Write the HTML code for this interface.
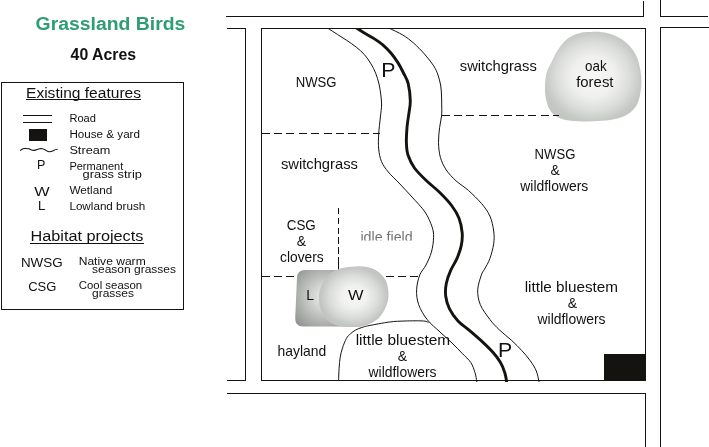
<!DOCTYPE html>
<html><head><meta charset="utf-8"><title>Grassland Birds</title>
<style>
html,body{margin:0;padding:0;background:#fff;}
body{width:709px;height:447px;overflow:hidden;font-family:"Liberation Sans",sans-serif;}
svg{display:block;}
text{font-family:"Liberation Sans",sans-serif;}
</style></head><body>
<svg width="709" height="447" viewBox="0 0 709 447">
<defs>
<radialGradient id="gF" cx="0.5" cy="0.5" r="0.53">
<stop offset="0" stop-color="#f8f9f7"/><stop offset="0.42" stop-color="#f0f1ef"/><stop offset="0.72" stop-color="#dbddda"/><stop offset="0.93" stop-color="#c7c9c6"/><stop offset="1" stop-color="#c4c6c3"/>
</radialGradient>
<radialGradient id="gW" cx="0.5" cy="0.5" r="0.51">
<stop offset="0" stop-color="#f8f8f6"/><stop offset="0.35" stop-color="#f1f2f0"/><stop offset="0.7" stop-color="#d9dbd8"/><stop offset="0.95" stop-color="#c3c5c2"/>
</radialGradient>
<radialGradient id="gL" gradientUnits="userSpaceOnUse" cx="325" cy="297" r="42">
<stop offset="0" stop-color="#eeefed"/><stop offset="0.3" stop-color="#d2d4d1"/><stop offset="0.7" stop-color="#a8aaa7"/><stop offset="1" stop-color="#888a87"/>
</radialGradient>
<clipPath id="mapclip"><rect x="261" y="28.5" width="385" height="353.5"/></clipPath>
<clipPath id="idleclip"><rect x="355" y="228" width="65" height="12.6"/></clipPath>
<filter id="soft" x="-5%" y="-5%" width="110%" height="110%"><feGaussianBlur stdDeviation="0.6"/></filter>
</defs>
<rect width="709" height="447" fill="#fff"/>
<!-- blobs -->
<path d="M591.2,31.9 C594.6,31.8 598.6,31.8 602.0,32.2 C605.4,32.6 608.0,33.0 611.4,34.2 C614.8,35.4 618.9,37.3 622.2,39.6 C625.6,41.9 629.0,45.2 631.5,48.2 C634.0,51.2 635.6,54.1 637.0,57.5 C638.4,60.9 639.3,64.5 640.0,68.3 C640.7,72.0 641.4,75.5 641.4,80.0 C641.4,84.5 640.9,90.9 640.0,95.2 C639.1,99.5 638.1,102.9 636.2,106.0 C634.3,109.1 631.5,111.7 628.4,113.8 C625.3,115.9 622.0,117.2 617.6,118.4 C613.2,119.6 607.2,120.3 602.0,120.8 C596.8,121.3 591.7,121.5 586.5,121.5 C581.3,121.5 575.6,121.4 571.0,120.8 C566.4,120.2 562.0,119.2 558.6,117.7 C555.2,116.2 552.8,114.0 550.9,111.5 C549.0,109.0 548.0,106.5 547.0,103.0 C546.0,99.5 545.1,95.3 545.0,90.5 C544.9,85.7 545.2,78.7 546.3,74.0 C547.4,69.3 549.8,65.9 551.6,62.1 C553.4,58.3 555.0,54.5 557.0,51.3 C559.0,48.1 561.0,45.2 563.3,42.7 C565.6,40.2 567.9,38.2 571.0,36.5 C574.1,34.8 578.5,33.4 581.9,32.6 C585.3,31.8 587.9,32.0 591.2,31.9Z" fill="url(#gF)" filter="url(#soft)"/>
<!-- roads -->
<g fill="none" stroke="#14130f" stroke-width="1.1" shape-rendering="crispEdges">
<path d="M226,16.5H644M643.5,17V1"/>
<path d="M660.5,0V16.5H708"/>
<path d="M227,28.5H245.5V380.5H227"/>
<path d="M227,393.5H645.5V447"/>
<path d="M709,27.5H660.5V447"/>
<rect x="261.5" y="28.5" width="384" height="352"/>
<rect x="1.5" y="82.5" width="182" height="227"/>
</g>
<!-- dashed -->
<g fill="none" stroke="#14130f" stroke-width="1.1" stroke-dasharray="8 4.4" shape-rendering="crispEdges">
<path d="M261.5,133.5H380"/>
<path d="M441.5,115.5H558.5"/>
<path d="M261.5,276.5H420"/>

</g>
<path d="M305,270 H352 V326.5 H303 Q295,326.5 295.2,318 L297,278 Q297.3,270 305,270Z" fill="url(#gL)" filter="url(#soft)"/>
<path d="M338.5,207.9V213.9M338.5,218V224.4M338.5,227.6V234.1M338.5,237.3V243.9M338.5,247.1V253.8M338.5,256.9V270" fill="none" stroke="#14130f" stroke-width="1.1" shape-rendering="crispEdges"/>
<path d="M355.4,266.4 C359.9,266.2 363.6,266.2 367.2,267.0 C370.8,267.8 374.1,268.7 377.2,270.9 C380.3,273.1 383.7,276.3 385.6,280.1 C387.5,283.9 388.4,289.4 388.5,293.6 C388.6,297.8 388.1,301.2 386.5,305.3 C384.9,309.4 382.4,314.5 378.9,317.9 C375.4,321.2 370.0,323.9 365.5,325.4 C361.0,326.9 356.5,327.0 352.0,327.1 C347.5,327.2 342.7,326.9 338.6,325.8 C334.6,324.7 330.6,323.0 327.7,320.4 C324.8,317.8 322.5,313.9 321.0,310.3 C319.5,306.7 318.9,302.5 318.9,298.6 C318.9,294.7 319.4,290.7 321.0,286.8 C322.6,282.9 325.4,278.1 328.6,275.0 C331.8,271.9 335.8,269.8 340.3,268.4 C344.8,267.0 350.9,266.6 355.4,266.4Z" fill="url(#gW)" filter="url(#soft)"/>
<!-- curves -->
<g fill="none" stroke="#14130f" stroke-width="1" clip-path="url(#mapclip)">
<path d="M322.0,25.0 C322.9,25.5 324.8,26.4 327.4,28.0 C330.0,29.6 334.2,32.3 337.4,34.4 C340.6,36.5 343.7,38.3 346.8,40.4 C349.9,42.5 353.3,44.8 356.2,47.1 C359.1,49.5 361.8,51.7 364.3,54.5 C366.8,57.3 369.1,60.8 371.0,63.9 C372.9,67.0 374.4,70.0 375.7,73.3 C377.0,76.6 378.1,80.4 379.0,84.0 C379.9,87.6 380.4,91.5 380.8,95.0 C381.2,98.5 381.7,101.3 381.6,105.0 C381.5,108.7 380.9,112.2 380.4,117.0 C379.9,121.8 379.0,128.7 378.7,134.0 C378.4,139.3 378.2,144.4 378.7,149.0 C379.2,153.6 379.9,157.8 381.5,161.6 C383.1,165.4 385.4,168.4 388.3,172.0 C391.2,175.6 395.1,178.8 399.0,183.0 C402.9,187.2 407.7,192.2 412.0,197.0 C416.3,201.8 421.7,207.1 425.0,212.0 C428.3,216.9 430.6,222.5 432.0,226.7 C433.4,230.9 433.7,233.2 433.6,237.4 C433.5,241.7 432.7,247.6 431.4,252.2 C430.1,256.8 427.9,261.2 426.0,265.0 C424.1,268.8 421.4,270.8 419.8,274.9 C418.2,279.0 416.8,284.8 416.6,289.8 C416.4,294.8 416.9,299.7 418.7,304.7 C420.5,309.7 423.6,315.1 427.2,319.6 C430.8,324.2 435.9,328.1 440.0,332.0 C444.1,335.9 448.3,339.4 452.0,343.0 C455.7,346.6 459.2,350.2 462.3,353.5 C465.4,356.8 468.7,359.3 470.8,362.5 C472.9,365.7 474.0,369.6 475.0,372.7 C476.0,375.8 476.4,379.3 476.7,381.0 C477.0,382.7 476.9,382.7 476.9,383.0"/>
<path d="M382.5,25.0 C383.5,25.5 385.3,26.3 388.7,28.0 C392.1,29.7 398.6,32.5 402.8,35.0 C407.0,37.5 410.0,40.0 413.6,43.1 C417.2,46.2 421.0,50.1 424.3,53.9 C427.6,57.7 431.4,62.4 433.7,65.9 C436.0,69.4 436.9,71.8 438.0,75.0 C439.1,78.2 440.0,81.7 440.6,85.0 C441.2,88.3 441.3,91.7 441.5,95.0 C441.7,98.3 441.7,101.7 441.7,105.0 C441.7,108.3 442.0,111.2 441.7,115.0 C441.4,118.8 440.1,123.0 439.6,127.6 C439.1,132.2 438.4,137.5 438.5,142.5 C438.6,147.5 439.1,152.8 440.4,157.4 C441.7,162.0 443.7,166.1 446.3,170.0 C448.9,173.9 452.3,177.4 456.0,180.8 C459.7,184.2 464.4,186.8 468.6,190.6 C472.8,194.4 477.8,199.2 481.4,203.4 C484.9,207.6 487.8,211.4 489.9,216.0 C491.9,220.6 493.1,226.4 493.7,231.0 C494.3,235.6 494.3,239.1 493.7,243.7 C493.1,248.3 491.4,254.4 489.9,258.6 C488.4,262.9 485.9,266.5 484.5,269.2 C483.1,271.9 482.5,271.5 481.4,274.9 C480.3,278.3 477.9,284.9 477.7,289.8 C477.5,294.8 478.3,299.7 480.3,304.6 C482.3,309.6 486.7,315.2 489.9,319.5 C493.1,323.8 496.1,326.7 499.7,330.2 C503.3,333.7 507.9,337.0 511.6,340.4 C515.3,343.8 518.7,347.2 521.8,350.6 C524.9,354.0 527.9,357.4 530.3,360.8 C532.7,364.2 534.9,367.6 536.3,371.0 C537.7,374.4 538.3,378.9 538.8,380.9 C539.3,382.9 539.0,382.6 539.1,383.0"/>
<path d="M338.6,380.5 C338.7,378.4 338.8,372.1 339.1,368.2 C339.4,364.3 339.6,360.7 340.2,357.3 C340.8,353.9 341.5,351.0 342.5,347.9 C343.5,344.8 345.1,340.9 346.4,338.5 C347.7,336.1 348.8,335.2 350.4,333.8 C352.0,332.4 353.9,330.9 355.8,329.9 C357.7,328.8 359.8,328.2 362.0,327.5 C364.2,326.8 364.5,326.5 369.1,325.6 C373.7,324.7 383.5,322.8 389.5,322.0 C395.5,321.2 399.3,321.2 405.0,321.0 C410.7,320.8 419.7,320.7 423.7,321.0 C427.7,321.3 427.9,322.5 428.8,322.8"/>
</g>
<path d="M351.0,24.8 C351.9,25.3 354.3,26.6 356.5,28.0 C358.7,29.4 361.4,31.3 364.3,33.0 C367.2,34.7 370.6,36.4 373.7,38.4 C376.8,40.4 380.2,42.6 383.1,45.1 C386.0,47.6 388.6,50.3 391.1,53.2 C393.6,56.1 395.8,59.3 397.9,62.6 C400.0,65.9 401.8,69.5 403.5,73.0 C405.2,76.5 407.1,79.1 408.2,83.7 C409.3,88.3 410.2,95.9 410.3,100.7 C410.4,105.5 409.6,108.2 409.0,112.7 C408.4,117.2 407.4,122.6 407.0,127.6 C406.6,132.6 406.2,137.9 406.4,142.5 C406.6,147.1 406.6,150.8 408.0,155.0 C409.4,159.2 411.4,163.7 414.5,168.0 C417.6,172.3 422.2,176.7 426.5,180.8 C430.8,184.9 435.8,188.6 440.0,192.7 C444.2,196.8 448.4,201.2 451.6,205.5 C454.8,209.8 457.2,213.6 459.0,218.2 C460.8,222.8 461.8,228.4 462.2,233.0 C462.6,237.6 462.1,241.6 461.2,245.9 C460.3,250.2 458.7,254.5 456.9,258.6 C455.1,262.7 452.4,266.5 450.6,270.6 C448.8,274.7 447.1,279.2 446.3,283.4 C445.5,287.6 445.2,291.8 445.7,296.0 C446.2,300.2 447.4,304.7 449.5,308.9 C451.6,313.1 454.7,317.4 458.0,321.0 C461.3,324.6 465.0,326.7 469.1,330.2 C473.2,333.7 478.7,338.4 482.7,342.1 C486.7,345.8 489.9,348.9 492.9,352.3 C495.9,355.7 498.5,359.1 500.5,362.5 C502.5,365.9 503.8,369.6 504.8,372.7 C505.8,375.8 506.2,379.0 506.5,380.9 C506.8,382.8 506.8,383.5 506.8,384.0" fill="none" stroke="#14130f" stroke-width="2.9" clip-path="url(#mapclip)"/>
<!-- house -->
<rect x="604" y="354" width="42" height="27" fill="#14130f"/>
<!-- legend symbols -->
<g fill="none" stroke="#14130f" stroke-width="1" shape-rendering="crispEdges">
<path d="M23,115.5H52M23,122.5H52"/>
<path d="M26,99.5H141"/>
<path d="M30,243.5H144"/>
</g>
<rect x="29" y="129" width="18" height="12" fill="#14130f"/>
<path d="M20.2,150.6 C21.5,149.5 22.5,148.6 24,148.5 C26,148.4 27.5,148.4 29,148.8 C31,149.6 32.5,150.5 34,150.4 C36.5,150.2 38.5,148.5 41.4,148.5 C43,148.6 44,149.2 45,149.8 C46.5,150.8 47.5,151.6 49,151.7 C50.5,151.8 51.5,151.5 52.5,151 C54,150.2 55,149.4 57.7,149.3" fill="none" stroke="#14130f" stroke-width="1.1"/>
<g fill="#111" opacity="0.999">
<text x="35.6" y="29.9" font-size="18" textLength="149.7" lengthAdjust="spacingAndGlyphs" font-weight="bold" fill="#2d9d72">Grassland Birds</text>
<text x="70.6" y="59.6" font-size="16" textLength="65.5" lengthAdjust="spacingAndGlyphs" font-weight="bold">40 Acres</text>
<text x="26" y="97.6" font-size="14" textLength="115" lengthAdjust="spacingAndGlyphs">Existing features</text>
<text x="69.4" y="122.3" font-size="10" textLength="26.5" lengthAdjust="spacingAndGlyphs">Road</text>
<text x="69.4" y="137.5" font-size="10" textLength="70.6" lengthAdjust="spacingAndGlyphs">House &amp; yard</text>
<text x="69.4" y="153.6" font-size="10" textLength="41" lengthAdjust="spacingAndGlyphs">Stream</text>
<text x="37" y="169" font-size="12.5">P</text>
<text x="69.4" y="169.7" font-size="10" textLength="53.9" lengthAdjust="spacingAndGlyphs">Permanent</text>
<text x="82.6" y="178" font-size="10" textLength="59.3" lengthAdjust="spacingAndGlyphs">grass strip</text>
<text x="34.2" y="195.6" font-size="13.5" textLength="15.4" lengthAdjust="spacingAndGlyphs">W</text>
<text x="69.4" y="193.6" font-size="10" textLength="43" lengthAdjust="spacingAndGlyphs">Wetland</text>
<text x="38" y="210" font-size="13">L</text>
<text x="69.4" y="209.8" font-size="10" textLength="75.9" lengthAdjust="spacingAndGlyphs">Lowland brush</text>
<text x="30.5" y="240.5" font-size="14" textLength="112.8" lengthAdjust="spacingAndGlyphs">Habitat projects</text>
<text x="20.9" y="266.7" font-size="13.5" textLength="41.7" lengthAdjust="spacingAndGlyphs">NWSG</text>
<text x="78.7" y="265" font-size="10" textLength="67" lengthAdjust="spacingAndGlyphs">Native warm</text>
<text x="92" y="272.6" font-size="10" textLength="84" lengthAdjust="spacingAndGlyphs">season grasses</text>
<text x="28.2" y="291" font-size="13.5" textLength="28.2" lengthAdjust="spacingAndGlyphs">CSG</text>
<text x="78.7" y="289" font-size="10" textLength="63.5" lengthAdjust="spacingAndGlyphs">Cool season</text>
<text x="92" y="296.6" font-size="10" textLength="42" lengthAdjust="spacingAndGlyphs">grasses</text>
<text x="295.7" y="86.9" font-size="14" textLength="40.8" lengthAdjust="spacingAndGlyphs">NWSG</text>
<text x="381.2" y="76.8" font-size="19.5" textLength="14.2" lengthAdjust="spacingAndGlyphs">P</text>
<text x="459.8" y="70.8" font-size="14.5" textLength="77" lengthAdjust="spacingAndGlyphs">switchgrass</text>
<text x="585" y="70.8" font-size="14.5" textLength="21.6" lengthAdjust="spacingAndGlyphs">oak</text>
<text x="576.2" y="86.5" font-size="14.5" textLength="37.3" lengthAdjust="spacingAndGlyphs">forest</text>
<text x="280.9" y="168.5" font-size="14.5" textLength="77" lengthAdjust="spacingAndGlyphs">switchgrass</text>
<text x="534.6" y="158.6" font-size="14" textLength="40.8" lengthAdjust="spacingAndGlyphs">NWSG</text>
<text x="550.4" y="174.9" font-size="14">&amp;</text>
<text x="520.3" y="190.7" font-size="14.5" textLength="68" lengthAdjust="spacingAndGlyphs">wildflowers</text>
<text x="286.7" y="229.6" font-size="14" textLength="29.1" lengthAdjust="spacingAndGlyphs">CSG</text>
<text x="296.7" y="245.6" font-size="14">&amp;</text>
<text x="280" y="261.6" font-size="14.5" textLength="43.7" lengthAdjust="spacingAndGlyphs">clovers</text>
<text x="306.2" y="299.7" font-size="14">L</text>
<text x="348" y="299.7" font-size="14" textLength="15.5" lengthAdjust="spacingAndGlyphs">W</text>
<text x="524.7" y="291.7" font-size="14.5" textLength="93.4" lengthAdjust="spacingAndGlyphs">little bluestem</text>
<text x="567.7" y="307.5" font-size="14">&amp;</text>
<text x="537.5" y="323.6" font-size="14.5" textLength="68" lengthAdjust="spacingAndGlyphs">wildflowers</text>
<text x="277.6" y="355.7" font-size="14.5" textLength="48.7" lengthAdjust="spacingAndGlyphs">hayland</text>
<text x="355.7" y="345.4" font-size="14.5" textLength="94.5" lengthAdjust="spacingAndGlyphs">little bluestem</text>
<text x="397.8" y="361" font-size="14">&amp;</text>
<text x="368.5" y="376.8" font-size="14.5" textLength="68" lengthAdjust="spacingAndGlyphs">wildflowers</text>
<text x="498.1" y="357" font-size="19.5" textLength="14.2" lengthAdjust="spacingAndGlyphs">P</text>
</g>
<g clip-path="url(#idleclip)" fill="#111" opacity="0.6"><text x="360.4" y="241.8" font-size="14.5" textLength="52.3" lengthAdjust="spacingAndGlyphs">idle field</text></g>
</svg>
</body></html>
